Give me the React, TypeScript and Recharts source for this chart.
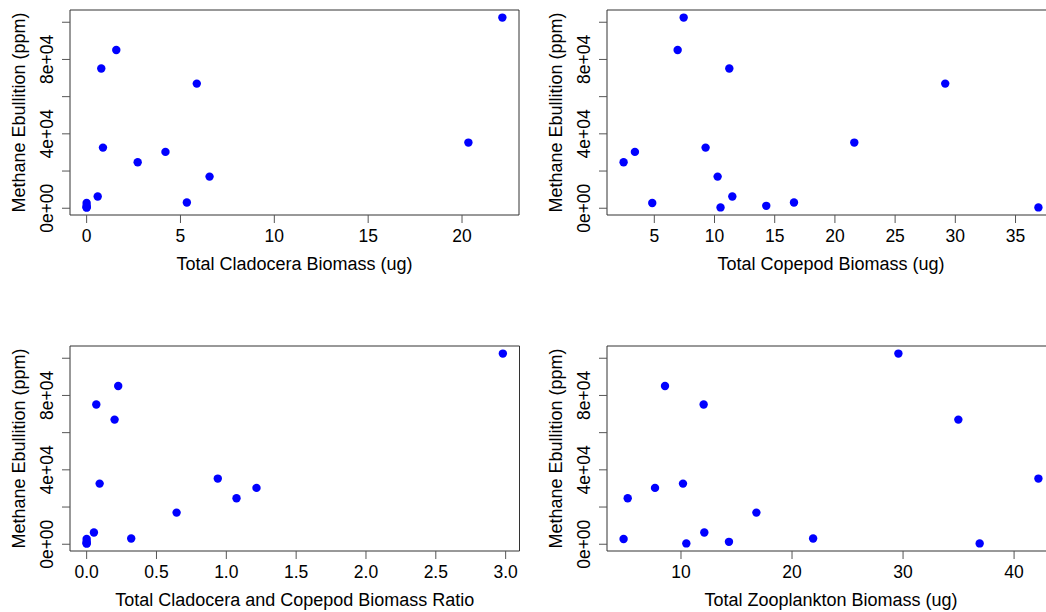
import { Label, ReferenceArea, Scatter, ScatterChart, XAxis, YAxis } from "recharts";

// one entry per sample, same order in every array
const methane = [102500, 85100, 75100, 67000, 35300, 32600, 30300, 24700, 17000, 6300, 3100, 2800, 450, 1300, 450];
const cladocera = [22.15, 1.58, 0.78, 5.87, 20.34, 0.87, 4.2, 2.72, 6.55, 0.59, 5.34, 0, 0, 0, 0];
const copepod = [7.44, 6.94, 11.23, 29.16, 21.61, 9.26, 3.39, 2.45, 10.26, 11.48, 16.6, 4.83, 10.5, 14.3, 36.9];
const cladCopeRatio = [2.98, 0.226, 0.069, 0.2, 0.939, 0.093, 1.216, 1.073, 0.644, 0.052, 0.319, 0, 0, 0, 0];
const zooplankton = [29.58, 8.56, 12.04, 34.98, 42.19, 10.18, 7.66, 5.2, 16.79, 12.1, 21.9, 4.83, 10.48, 14.32, 36.9];

const methaneTicks = [0, 20000, 40000, 60000, 80000, 100000];
const methaneLabels: Record<number, string> = { 0: "0e+00", 40000: "4e+04", 80000: "8e+04" };
const cladoceraTicks = [0, 5, 10, 15, 20];
const copepodTicks = [5, 10, 15, 20, 25, 30, 35];
const ratioTicks = [0, 0.5, 1, 1.5, 2, 2.5, 3];
const zooplanktonTicks = [10, 20, 30, 40];

const Y_TITLE = "Methane Ebullition (ppm)";
const FONT = "'Liberation Sans', Arial, sans-serif";
const PLOT_TOP = 10;
const PLOT_BOTTOM = 215;
const CHART_H = 300;

// R-style axis range: data range padded by 4% on both sides
function padded(values: number[]): [number, number] {
  const lo = Math.min(...values);
  const hi = Math.max(...values);
  const pad = (hi - lo) * 0.04;
  return [lo - pad, hi + pad];
}

function Panel({
  xs,
  xTicks,
  xFormat,
  xTitle,
  left,
  top,
  width,
  plotLeft,
  plotRight,
}: {
  xs: number[];
  xTicks: number[];
  xFormat: (v: number) => string;
  xTitle: string;
  left: number;
  top: number;
  width: number;
  plotLeft: number;
  plotRight: number;
}) {
  const data = xs.map((x, i) => ({ x, y: methane[i] }));
  const xDomain = padded(xs);
  const yDomain = padded(methane);

  return (
    <div style={{ position: "absolute", left, top }}>
      <ScatterChart
        width={width}
        height={CHART_H}
        margin={{ top: PLOT_TOP, right: width - plotRight, left: plotLeft - 60, bottom: CHART_H - PLOT_BOTTOM - 60 }}
      >
        <ReferenceArea
          x1={xDomain[0]}
          x2={xDomain[1]}
          y1={yDomain[0]}
          y2={yDomain[1]}
          fill="none"
          stroke="#333"
          strokeWidth={1}
          ifOverflow="visible"
        />
        <XAxis
          type="number"
          dataKey="x"
          domain={xDomain}
          ticks={xTicks}
          interval={0}
          height={60}
          axisLine={false}
          tickSize={8}
          stroke="#555"
          tick={(p: any) => (
            <text x={p.x} y={PLOT_BOTTOM + 26.5} textAnchor="middle" fontSize={17.5} fontFamily={FONT} fill="#000">
              {xFormat(p.payload.value)}
            </text>
          )}
        >
          <Label
            content={() => (
              <text x={(plotLeft + plotRight) / 2} y={270} textAnchor="middle" fontSize={18} fontFamily={FONT} fill="#000">
                {xTitle}
              </text>
            )}
          />
        </XAxis>
        <YAxis
          type="number"
          dataKey="y"
          domain={yDomain}
          ticks={methaneTicks}
          interval={0}
          width={60}
          axisLine={false}
          tickSize={8}
          stroke="#555"
          tick={(p: any) => {
            const label = methaneLabels[p.payload.value];
            if (!label) return <g />;
            const bx = plotLeft - 17;
            return (
              <text
                x={bx}
                y={p.y}
                transform={`rotate(-90 ${bx} ${p.y})`}
                textAnchor="middle"
                fontSize={17.5}
                fontFamily={FONT}
                fill="#000"
              >
                {label}
              </text>
            );
          }}
        >
          <Label
            content={() => {
              const bx = plotLeft - 45;
              const cy = (PLOT_TOP + PLOT_BOTTOM) / 2;
              return (
                <text
                  x={bx}
                  y={cy}
                  transform={`rotate(-90 ${bx} ${cy})`}
                  textAnchor="middle"
                  fontSize={18}
                  fontFamily={FONT}
                  fill="#000"
                >
                  {Y_TITLE}
                </text>
              );
            }}
          />
        </YAxis>
        <Scatter
          data={data}
          fill="#0000ff"
          isAnimationActive={false}
          shape={(p: any) => <circle cx={p.cx} cy={p.cy} r={4.2} fill="#0000ff" />}
        />
      </ScatterChart>
    </div>
  );
}

const plain = (v: number) => String(v);
const oneDecimal = (v: number) => v.toFixed(1);

export default function App() {
  return (
    <div style={{ position: "relative", width: 1046, height: 612, overflow: "hidden", background: "#fff" }}>
      <style>{`body{margin:0}`}</style>
      <Panel
        xs={cladocera}
        xTicks={cladoceraTicks}
        xFormat={plain}
        xTitle="Total Cladocera Biomass (ug)"
        left={0}
        top={0}
        width={523}
        plotLeft={70}
        plotRight={519}
      />
      <Panel
        xs={copepod}
        xTicks={copepodTicks}
        xFormat={plain}
        xTitle="Total Copepod Biomass (ug)"
        left={523}
        top={0}
        width={540}
        plotLeft={84}
        plotRight={532}
      />
      <Panel
        xs={cladCopeRatio}
        xTicks={ratioTicks}
        xFormat={oneDecimal}
        xTitle="Total Cladocera and Copepod Biomass Ratio"
        left={0}
        top={336}
        width={523}
        plotLeft={70}
        plotRight={519.5}
      />
      <Panel
        xs={zooplankton}
        xTicks={zooplanktonTicks}
        xFormat={plain}
        xTitle="Total Zooplankton Biomass (ug)"
        left={523}
        top={336}
        width={540}
        plotLeft={84}
        plotRight={532}
      />
    </div>
  );
}
